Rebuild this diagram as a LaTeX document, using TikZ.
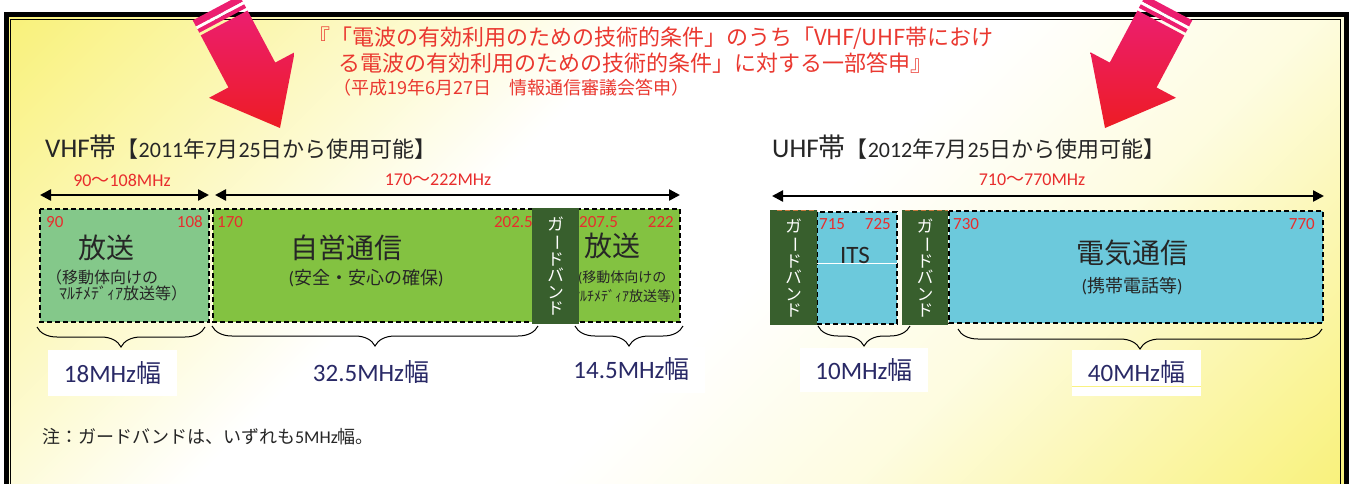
\documentclass[tikz,border=0pt]{standalone}
\usepackage{fontspec}
\setmainfont{Noto Sans CJK JP}
\newfontfamily\latinfont{Carlito}
\usetikzlibrary{arrows.meta,decorations.pathreplacing,calc}

\definecolor{bgyellow}{RGB}{245,233,45}
\definecolor{numred}{RGB}{232,45,45}
\definecolor{titlered}{RGB}{234,56,48}
\definecolor{inkgray}{RGB}{38,38,38}
\definecolor{navyink}{RGB}{41,41,102}
\definecolor{bcgreen}{RGB}{132,200,138}
\definecolor{ylgreen}{RGB}{131,194,65}
\definecolor{guardgreen}{RGB}{56,95,45}
\definecolor{itsblue}{RGB}{108,201,220}
\definecolor{arrowpink}{RGB}{236,30,112}
\definecolor{arrowred}{RGB}{237,28,36}
\definecolor{edgeorange}{RGB}{200,120,60}

\newcommand{\fsz}[1]{\fontsize{#1}{#1}\selectfont}
\newcommand{\lat}[1]{{\latinfont#1}}
\newcommand{\guardtext}{ガ\\\rotatebox[origin=c]{-90}{ー}\\ド\\バ\\ン\\ド}

\pgfdeclareverticalshading{bgfade}{100bp}{color(0bp)=(bgyellow); color(14bp)=(bgyellow!65!white); color(34bp)=(bgyellow!15!white); color(46bp)=(white); color(60bp)=(white); color(74bp)=(bgyellow!35!white); color(88bp)=(bgyellow!70!white); color(100bp)=(bgyellow)}

\tikzset{
  band/.style={draw=black, line width=1.4pt, dash pattern=on 5pt off 3pt},
  numlab/.style={text=numred, font=\latinfont\fsz{17}, inner sep=0pt},
  freqlab/.style={text=numred, font=\fsz{18}, inner sep=0pt},
  titletext/.style={text=titlered, font=\fsz{22}, inner sep=0pt},
  headtext/.style={text=inkgray, inner sep=0pt},
  dblarrow/.style={{Triangle[length=11pt,width=11pt]}-{Triangle[length=11pt,width=11pt]}, line width=2.4pt},
  bigname/.style={text=inkgray, font=\fsz{28}, inner sep=0pt},
  subname/.style={text=inkgray, font=\fsz{16}, inner sep=0pt},
  guard/.style={fill=guardgreen},
  guardlab/.style={text=white, font=\fontsize{16.5}{16.5}\selectfont, align=center, inner sep=0pt},
  wbrace/.style={decorate, decoration={brace, mirror, amplitude=20pt}, line width=1pt},
  widthlab/.style={fill=white, text=navyink, font=\fsz{25}, minimum width=129pt, minimum height=46pt, inner sep=0pt},
  edgedash/.style={line width=1pt, dash pattern=on 5pt off 3pt},
  arrowshade/.style={top color=arrowpink, bottom color=arrowred},
}

% block arrow with striped tail, #1 name, #2 tip, #3 angle
\newcommand{\bandarrow}[3]{%
  \begin{scope}[shift={#2}, rotate=#3]
    \fill[arrowpink] (-136,-26.5) rectangle (-129,26.5);
    \fill[white] (-129,-26.5) rectangle (-126,26.5);
    \fill[arrowpink] (-126,-26.5) rectangle (-122,26.5);
    \coordinate (#1-t) at (0,0);
    \coordinate (#1-wa) at (-60,48.5);
    \coordinate (#1-ca) at (-60,26.5);
    \coordinate (#1-ea) at (-119,26.5);
    \coordinate (#1-eb) at (-119,-26.5);
    \coordinate (#1-cb) at (-60,-26.5);
    \coordinate (#1-wb) at (-60,-48.5);
  \end{scope}
  \shade[arrowshade] (#1-t) -- (#1-wa) -- (#1-ca) -- (#1-ea) -- (#1-eb) -- (#1-cb) -- (#1-wb) -- cycle;
}

\begin{document}
\begin{tikzpicture}[x=1pt,y=-1pt]
\useasboundingbox (0,0) rectangle (1351,483);
\clip (0,0) rectangle (1351,483);
\fill[white] (0,0) rectangle (1351,483);

% background and frame
\shade[shading=bgfade, shading angle=45] (6,14) rectangle (1346,495);
\draw[line width=5pt] (6,14) rectangle (1346,500);
\draw[line width=1.2pt] (10.5,19.5) rectangle (1340.5,500);

% title
\node[titletext, anchor=west] (t1) at (308,38) {『「電波の有効利用のための技術的条件」のうち「VHF/UHF帯におけ};
\node[titletext, anchor=west] (t2) at (338,63) {る電波の有効利用のための技術的条件」に対する一部答申』};
\node[titletext, font=\fsz{18}, anchor=west] (t3) at (333,88) {（平成19年6月27日　情報通信審議会答申）};

% headings
\node[headtext, anchor=west] (vhead) at (45,147) {{\fsz{27}\lat{VHF}帯}{\fsz{22}【\lat{2011}年\lat{7}月\lat{25}日から使用可能】}};
\node[headtext, anchor=west] (uhead) at (772,147) {{\fsz{27}\lat{UHF}帯}{\fsz{22}【\lat{2012}年\lat{7}月\lat{25}日から使用可能】}};

% VHF ranges
\coordinate (va1l) at (40,195);
\coordinate (va1r) at (209,195);
\coordinate (va2l) at (215,195);
\coordinate (va2r) at (680,195);
\draw[dblarrow] (va1l) -- (va1r);
\draw[dblarrow] (va2l) -- (va2r);
\node[freqlab] (vf1) at (122,180) {\lat{90}〜\lat{108MHz}};
\node[freqlab] (vf2) at (438,180) {\lat{170}〜\lat{222MHz}};

% VHF boxes
\path[band, fill=bcgreen] (40,209) rectangle (209,322);
\path[band, fill=ylgreen] (213,209) rectangle (680,322);
\node[numlab, anchor=west] (n90) at (46,222) {90};
\node[numlab, anchor=east] (n108) at (203,222) {108};
\node[bigname] (vb1) at (106,248) {放送};
\node[subname, anchor=west] (vb1a) at (46,277) {（移動体向けの};
\node[subname, anchor=west] (vb1b) at (59,293) {ﾏﾙﾁﾒﾃﾞｨｱ放送等）};
\node[numlab, anchor=west] (n170) at (217,222) {170};
\node[numlab, anchor=east] (n2025) at (533,222) {202.5};
\node[bigname] (vb2) at (346,248) {自営通信};
\node[subname, font=\fsz{18}] (vb2a) at (366,278) {\lat{(}安全・安心の確保\lat{)}};
\node[numlab, anchor=west] (n2075) at (579,222) {207.5};
\node[numlab, anchor=east] (n222) at (674,222) {222};
\node[bigname] (vb3) at (612,246) {放送};
\node[subname, font=\fsz{14}, anchor=west] (vb3a) at (578,278) {\lat{(}移動体向けの};
\node[subname, font=\fsz{14}, anchor=west] (vb3b) at (573,296) {ﾏﾙﾁﾒﾃﾞｨｱ放送等\lat{)}};
\draw[numred, edgedash] (542,208) -- (574,208);
\fill[guard] (532,208) rectangle (579,324);
\node[guardlab] (vgb) at (555.5,266) {\guardtext};

% UHF range
\coordinate (ua1l) at (772,196);
\coordinate (ua1r) at (1324,196);
\draw[dblarrow] (ua1l) -- (ua1r);
\node[freqlab] (uf1) at (1032,180) {\lat{710}〜\lat{770MHz}};

% UHF boxes
\path[band, fill=itsblue] (817,212) rectangle (897,324);
\draw[white, line width=1pt] (817,263) -- (897,263);
\fill[guard] (770,210) rectangle (817,325);
\draw[edgeorange, edgedash] (777,210) -- (817,210);
\node[guardlab] (ugb1) at (793.5,268) {\guardtext};
\node[numlab, anchor=west] (n715) at (819,224) {715};
\node[numlab, anchor=east] (n725) at (891,224) {725};
\node[bigname, font=\latinfont\fsz{25}] (its) at (855,255) {ITS};
\fill[guard] (902,210) rectangle (948,325);
\draw[edgeorange, edgedash] (905,210) -- (948,210);
\node[guardlab] (ugb2) at (925,268) {\guardtext};
\path[band, fill=itsblue] (949,211) rectangle (1323,323);
\node[numlab, anchor=west] (n730) at (953,224) {730};
\node[numlab, anchor=east] (n770) at (1315,224) {770};
\node[bigname] (ub2) at (1132,253) {電気通信};
\node[subname, font=\fsz{18}] (ub2a) at (1132,286) {\lat{(}携帯電話等\lat{)}};

% braces
\coordinate (vbr1a) at (37,327);
\coordinate (vbr1b) at (205,327);
\coordinate (vbr2a) at (212,326);
\coordinate (vbr2b) at (538,326);
\coordinate (vbr3a) at (575,326);
\coordinate (vbr3b) at (683,326);
\coordinate (ubr1a) at (818,326);
\coordinate (ubr1b) at (910,326);
\coordinate (ubr2a) at (958,329);
\coordinate (ubr2b) at (1322,329);
\draw[wbrace] (vbr1a) -- (vbr1b);
\draw[wbrace] (vbr2a) -- (vbr2b);
\draw[wbrace] (vbr3a) -- (vbr3b);
\draw[wbrace] (ubr1a) -- (ubr1b);
\draw[wbrace] (ubr2a) -- (ubr2b);

% widths
\node[widthlab] (w18) at (112.5,373) {\lat{18MHz}幅};
\node[widthlab, fill=none] (w325) at (371,372) {\lat{32.5MHz}幅};
\node[widthlab, minimum width=147pt] (w145) at (631.5,369.5) {\lat{14.5MHz}幅};
\node[widthlab, minimum width=128pt, minimum height=44pt] (w10) at (864,370) {\lat{10MHz}幅};
\node[widthlab] (w40) at (1136.5,372.5) {\lat{40MHz}幅};
\draw[bgyellow!60!white, line width=0.8pt] ($(w40.south west)!0.2!(w40.north west)$) -- ($(w40.south east)!0.2!(w40.north east)$);

\node[headtext, font=\fsz{18}, anchor=west] (note) at (42,437) {注：ガードバンドは、いずれも\lat{5MHz}幅。};

% arrows
\bandarrow{la}{(280,128)}{-62}
\bandarrow{ra}{(1105,128)}{-118}
\end{tikzpicture}
\end{document}
